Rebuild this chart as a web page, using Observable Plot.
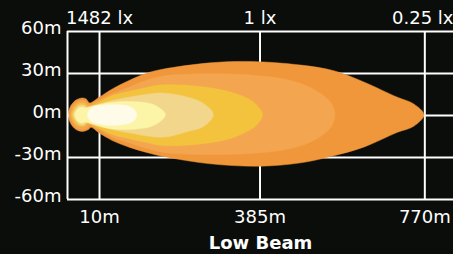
<!DOCTYPE html>
<html><head><meta charset="utf-8">
<script src="https://cdn.jsdelivr.net/npm/d3@7"></script>
<script src="https://cdn.jsdelivr.net/npm/@observablehq/plot@0.6"></script>
<style>html,body{margin:0;padding:0;background:#0b0d0a;overflow:hidden}</style>
</head><body><div id="chart"></div>
<script>
// ---- data ----
const xTicks = [10, 385, 770];
const xTickLabels = ["10m", "385m", "770m"];
const luxLabels = ["1482 lx", "1 lx", "0.25 lx"];
const yTicks = [60, 30, 0, -30, -60];
const yTickLabels = ["60m", "30m", "0m", "-30m", "-60m"];
const title = "Low Beam";

// isolux contours, [distance m, lateral m]
const beam025 = [[-63,0.5],[-57,7],[-45,11],[-34,12.4],[-22,12],[-13,9],[9,13],[40,19],[79,25],[118,30],[157,33],[269,37.6],[363,38.6],[480,36],[557,32],[627,24],[706,13],[744,8.3],[768,0.5],[744,-7.7],[706,-12],[627,-22.6],[550,-29.3],[480,-33.8],[386,-36.2],[269,-34.5],[157,-29.1],[118,-26.2],[79,-22.6],[40,-17.9],[9,-12.4],[-10,-8.4],[-16,-10],[-30,-11.4],[-45,-10],[-57,-5.9]];
const beam05 = [[-59,0.5],[-53,6.1],[-44,9.6],[-33,10.7],[-23,10.4],[-13,7.9],[-2,9.5],[40,15.5],[79,20.2],[118,25],[157,28.1],[246,29.8],[363,28.9],[456,25],[515,17.9],[550,9.3],[560,0.5],[550,-8.6],[515,-17.1],[456,-23.6],[363,-27.1],[246,-27.8],[157,-26.2],[118,-23.3],[79,-19.5],[40,-15.5],[-2,-8.6],[-13,-7.1],[-23,-9.6],[-33,-10],[-44,-8.9],[-53,-5]];
const beam1 = [[-55,0.5],[-50,5.4],[-41,8.2],[-33,8.9],[-25,8.6],[-16,6.4],[1,8.2],[40,14.3],[79,17.1],[118,19.8],[157,21.9],[246,20.7],[316,16.7],[363,11],[381,6],[391,0.5],[381,-5.5],[363,-10],[316,-16.4],[246,-20.3],[157,-21.4],[118,-19.1],[79,-16.6],[40,-13.6],[1,-7.9],[-16,-5.4],[-25,-7.5],[-33,-7.9],[-41,-7.1],[-50,-4.3]];
const beam2 = [[-52,0.5],[-46,4.6],[-39,7.1],[-32,7.5],[-25,7.1],[-18,5.4],[-6,6.4],[40,10.7],[79,13.1],[118,15],[157,16.1],[216,13.1],[253,8.6],[276,0.5],[253,-7.9],[216,-11.4],[157,-15.5],[79,-12.4],[40,-10],[-6,-6.1],[-18,-4.6],[-25,-6.4],[-32,-6.8],[-39,-6.1],[-46,-3.6]];
const beam5 = [[-48,0.5],[-44,3.6],[-37,5.7],[-30,6.1],[-23,5.4],[-11,6.4],[40,9.5],[106,9.6],[141,7.1],[164,0.5],[141,-6.4],[106,-9.3],[40,-9.6],[-11,-5.7],[-23,-4.6],[-30,-5.4],[-37,-5],[-44,-2.9]];
const beam16 = [[-18,0.5],[-11,5],[8,7.1],[38,7.6],[71,7.1],[90,4.6],[97,0.5],[90,-3.9],[71,-6.1],[38,-7],[8,-6.1],[-11,-3.9]];

const contours = [beam025, beam05, beam1, beam2, beam5, beam16];
const contourColors = ["#f0973b", "#f3a64f", "#f4c33d", "#f1d68b", "#fcf4a6", "#fffbe9"];

const xDomain = [-64.8, 837];
const yDomain = [-60, 60];

const shapeMarks = contours.map((pts, i) =>
  Plot.line(pts, {x: d => d[0], y: d => d[1], fill: contourColors[i], stroke: contourColors[i], strokeWidth: 0.5, curve: "catmull-rom-closed"})
);

const chart = Plot.plot({
  width: 453, height: 254,
  marginLeft: 67, marginRight: 0, marginTop: 31, marginBottom: 55,
  x: {domain: xDomain},
  y: {domain: yDomain},
  style: {background: "#0b0d0a", color: "white", fontFamily: "DejaVu Sans", fontSize: "18px"},
  marks: [
    Plot.ruleY(yTicks.filter(d => Math.abs(d) < 60), {stroke: "white", strokeWidth: 2}),
    Plot.ruleX(xTicks, {stroke: "white", strokeWidth: 2}),
    ...shapeMarks,
    Plot.ruleY(yDomain, {stroke: "white", strokeWidth: 2}),
    Plot.ruleX([xDomain[0]], {stroke: "white", strokeWidth: 2}),
    Plot.axisY(yTicks, {tickFormat: d => yTickLabels[yTicks.indexOf(d)], tickSize: 0, tickPadding: 6, dy: -3.5, fontSize: 18, fontFamily: "DejaVu Sans", fill: "white"}),
    Plot.axisX(xTicks, {tickFormat: d => xTickLabels[xTicks.indexOf(d)], tickSize: 0, tickPadding: 11, fontSize: 18, fontFamily: "DejaVu Sans", fill: "white"}),
    Plot.text(xTicks.slice(0, 2), {x: d => d, text: d => luxLabels[xTicks.indexOf(d)], frameAnchor: "top", lineAnchor: "middle", dy: -13, fontSize: 18, fontFamily: "DejaVu Sans", fill: "white"}),
    Plot.text([luxLabels[2]], {frameAnchor: "top-right", textAnchor: "end", lineAnchor: "middle", dy: -13, fontSize: 18, fontFamily: "DejaVu Sans", fill: "white"}),
    Plot.text([title], {frameAnchor: "bottom", lineAnchor: "middle", dy: 43.5, fontSize: 18, fontWeight: "bold", fontFamily: "DejaVu Sans", fill: "white"})
  ]
});
document.getElementById("chart").appendChild(chart);
</script>
</body></html>
